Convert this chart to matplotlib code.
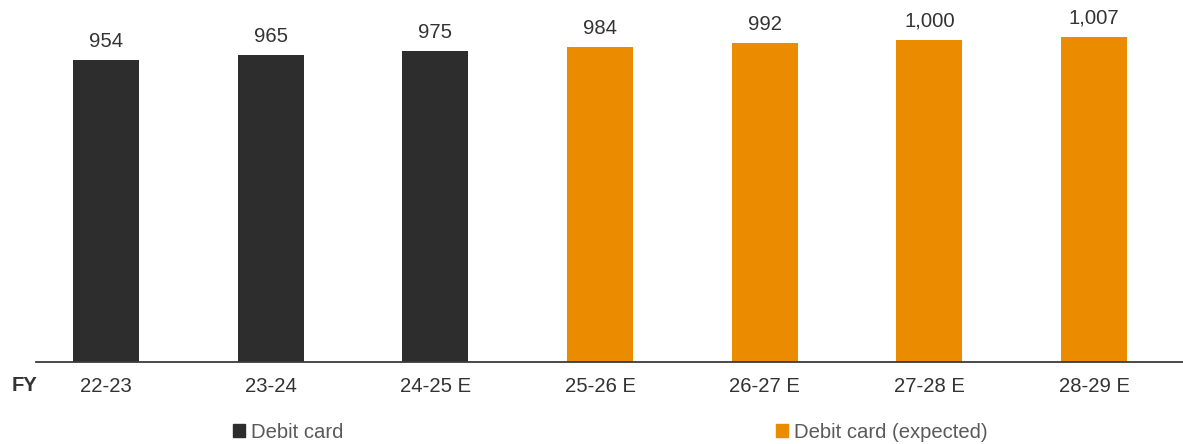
import matplotlib
matplotlib.use("Agg")
import matplotlib.pyplot as plt
from matplotlib.patches import Patch

plt.rcParams["font.family"] = ["Liberation Sans", "DejaVu Sans"]

# Debit cards in force (millions), fiscal years
years = ["22-23", "23-24", "24-25 E", "25-26 E", "26-27 E", "27-28 E", "28-29 E"]
values = [954, 965, 975, 984, 992, 1000, 1007]
expected = [False, False, False, True, True, True, True]

actual_label = "Debit card"
expected_label = "Debit card (expected)"

dark = "#2d2d2d"
orange = "#eb8c00"
text_color = "#333333"
legend_text = "#5a5a5a"

W, H, DPI = 1183, 444, 100
fig = plt.figure(figsize=(W / DPI, H / DPI), dpi=DPI)

base_px = 362
ax = fig.add_axes([36 / W, 1 - base_px / H, 1 - 36 / W, base_px / H])

colors = [orange if e else dark for e in expected]
x = list(range(len(years)))
bars = ax.bar(x, values, width=0.40, color=colors, zorder=2)
ax.bar_label(bars, labels=[f"{v:,}" for v in values], padding=6.5,
             fontsize=14.6, color=text_color)

ax.set_xlim(-0.425, 6.54)
ax.set_ylim(249, 1093)

for side in ("top", "right", "left"):
    ax.spines[side].set_visible(False)
ax.spines["bottom"].set_color("#3a3a3a")
ax.spines["bottom"].set_linewidth(1.3)
ax.set_yticks([])
ax.set_xticks(x)
ax.set_xticklabels(years, fontsize=14.6, color=text_color)
ax.tick_params(axis="x", length=0, pad=11)

fig.text(12 / W, 1 - 385 / H, "FY", fontsize=14.6, fontweight="bold",
         color=text_color, va="center", ha="left")

handles = [Patch(color=dark, label=actual_label),
           Patch(color=orange, label=expected_label)]
for h, xpos in zip(handles, (233, 776)):
    fig.legend(handles=[h], loc="center left",
               bbox_to_anchor=(xpos / W, 1 - 432 / H),
               frameon=False, fontsize=14.6, labelcolor=legend_text,
               handlelength=0.6, handleheight=0.6, handletextpad=0.3,
               borderpad=0, borderaxespad=0)

fig.savefig("out.png", dpi=DPI)
